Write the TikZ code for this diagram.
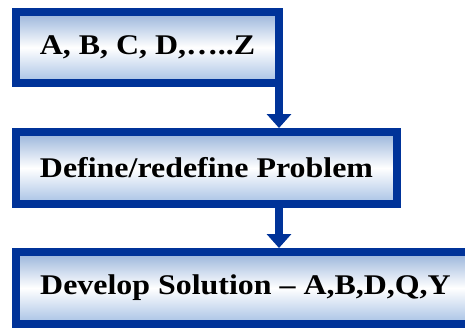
\documentclass[tikz,border=0pt]{standalone}
\usepackage{fontspec}
\setmainfont[FakeStretch=1.12]{Liberation Serif}
\usetikzlibrary{arrows.meta,calc}
\definecolor{bordblue}{RGB}{0,51,153}
\definecolor{shadetop}{RGB}{150,178,218}
\definecolor{shadebot}{RGB}{165,192,228}
\tikzset{
  stepbox/.style={draw=bordblue, line width=8pt, inner sep=0pt, outer sep=0pt,
    top color=shadetop, bottom color=shadebot, middle color=white,
    font=\fontsize{28.5}{31}\selectfont\bfseries, text=black},
  flowarrow/.style={draw=bordblue, line width=8pt,
    -{Triangle[width=24pt,length=14pt]}}
}
\begin{document}
\begin{tikzpicture}[x=1pt,y=-1pt]
\useasboundingbox (0,0) rectangle (465,327);
\clip (0,0) rectangle (465,327);
\node[stepbox, minimum width=263pt, minimum height=71pt] (b1) at (147.5,47.5) {A, B, C, D,\ldots..Z};
\node[stepbox, minimum width=381pt, minimum height=72pt] (b2) at (206.5,168) {Define/redefine Problem};
\node[stepbox, minimum width=459pt, minimum height=72pt] (b3) at (245.5,288) {Develop Solution -- A,B,D,Q,Y};
\draw[flowarrow] (b1.south east) -- ($(b1.south east |- b2.north)+(0,-4)$);
\draw[flowarrow] (b1.south east |- b2.south) -- ($(b1.south east |- b3.north)+(0,-4)$);
\end{tikzpicture}
\end{document}
